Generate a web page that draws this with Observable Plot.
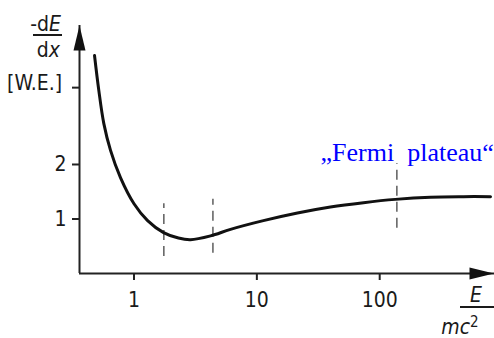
<!DOCTYPE html>
<html><head><meta charset="utf-8">
<script src="https://cdn.jsdelivr.net/npm/d3@7"></script>
<script src="https://cdn.jsdelivr.net/npm/@observablehq/plot@0.6"></script>
<style>body{margin:0;background:#fff}</style>
</head><body><div id="chart"></div>
<script>
// Energy loss curve (Bethe-Bloch shape)
const energy = [0.477, 0.517, 0.568, 0.644, 0.776, 1.0, 1.29, 1.74, 2.3, 2.88, 4.2, 6.1, 11.3, 21.4, 39.7, 73.8, 134, 259, 481, 798];
const loss   = [4.0, 3.36, 2.75, 2.26, 1.76, 1.28, 0.97, 0.75, 0.65, 0.62, 0.69, 0.81, 0.97, 1.11, 1.22, 1.30, 1.36, 1.40, 1.41, 1.41];
// dashed markers
const markerE    = [1.75, 4.39, 138];
const markerLow  = [0.31, 0.37, 0.83];
const markerHigh = [1.28, 1.36, 2.02];
// ticks
const xTicks = [1, 10, 100];
const yTicks = [1, 2];
const unitTick = [3.41];
const xDomain = [0.36, 860];
const yDomain = [0, 4.55];
// annotation
const annotationText = ["\u201EFermi\u00a0\u00a0plateau\u201C"];
const annotationE = [33];
const annotationLoss = [2.07];

const curveData = energy.map((e, i) => ({e, l: loss[i]}));
const markers = markerE.map((e, i) => ({e, lo: markerLow[i], hi: markerHigh[i]}));
const notes = annotationText.map((t, i) => ({t, e: annotationE[i], l: annotationLoss[i]}));
const heads = [{e: xDomain[1], l: yDomain[0], rot: 90}, {e: xDomain[0], l: yDomain[1], rot: 0}];

const arrowHead = {draw(ctx) { ctx.moveTo(0, 0); ctx.lineTo(-6, 25); ctx.lineTo(6, 25); ctx.closePath(); }};
const font = '"DejaVu Sans Condensed","Liberation Sans Narrow",sans-serif';

const plot = Plot.plot({
  width: 494, height: 338,
  marginLeft: 79, marginRight: 0, marginTop: 25, marginBottom: 65,
  style: {fontFamily: font, fontSize: "21px", fontStretch: "condensed", color: "#1a1a1a", background: "#fff"},
  x: {type: "log", domain: xDomain, axis: null},
  y: {domain: yDomain, axis: null},
  marks: [
    Plot.ruleY([yDomain[0]], {stroke: "#222", strokeWidth: 2}),
    Plot.ruleX([xDomain[0]], {stroke: "#222", strokeWidth: 2}),
    Plot.axisX({ticks: xTicks, anchor: "bottom", tickSize: 7, tickPadding: 12, tickFormat: d => String(d), fontSize: 21, strokeWidth: 2, stroke: "#222", fill: "#1a1a1a", label: null}),
    Plot.axisY({ticks: [...yTicks, ...unitTick], anchor: "left", tickSize: 7, tickPadding: 6, tickFormat: d => yTicks.includes(d) ? String(d) : "", fontSize: 21, strokeWidth: 2, stroke: "#222", fill: "#1a1a1a", label: null}),
    Plot.ruleX(markers, {x: "e", y1: "lo", y2: "hi", stroke: "#444", strokeWidth: 1.3, strokeDasharray: "10,6"}),
    Plot.line(curveData, {x: "e", y: "l", curve: "catmull-rom", stroke: "#111", strokeWidth: 3}),
    Plot.dot(heads, {x: "e", y: "l", rotate: "rot", symbol: arrowHead, r: 5, fill: "#111", stroke: "none"}),
    Plot.text(notes, {x: "e", y: "l", text: "t", textAnchor: "start", lineAnchor: "bottom", fontFamily: '"Liberation Serif","Times New Roman",serif', fontSize: 26, fill: "#0000ff"})
  ]
});
document.getElementById("chart").append(plot);

// Axis titles (fractions)
const svg = d3.select(plot);
const g = svg.append("g").attr("font-family", font).attr("font-stretch", "condensed").attr("font-size", 21).attr("fill", "#1a1a1a");
// y: -dE/dx [W.E.]
const yl = g.append("g").attr("text-anchor", "end");
const t1 = yl.append("text").attr("x", 61).attr("y", 31);
t1.append("tspan").text("-d");
t1.append("tspan").attr("font-style", "italic").text("E");
yl.append("line").attr("x1", 33).attr("x2", 62).attr("y1", 35).attr("y2", 35).attr("stroke", "#1a1a1a").attr("stroke-width", 2);
const t2 = yl.append("text").attr("x", 60).attr("y", 57);
t2.append("tspan").text("d");
t2.append("tspan").attr("font-style", "italic").text("x");
yl.append("text").attr("x", 62).attr("y", 90).text("[W.E.]");
// x: E/mc^2
const xl = g.append("g");
xl.append("text").attr("x", 476).attr("y", 302).attr("text-anchor", "middle").attr("font-style", "italic").text("E");
xl.append("line").attr("x1", 460).attr("x2", 494).attr("y1", 307).attr("y2", 307).attr("stroke", "#1a1a1a").attr("stroke-width", 2);
const t3 = xl.append("text").attr("x", 460).attr("y", 334);
t3.append("tspan").attr("font-style", "italic").text("mc");
t3.append("tspan").attr("dy", -7).attr("font-size", 15).text("2");
</script>
</body></html>
